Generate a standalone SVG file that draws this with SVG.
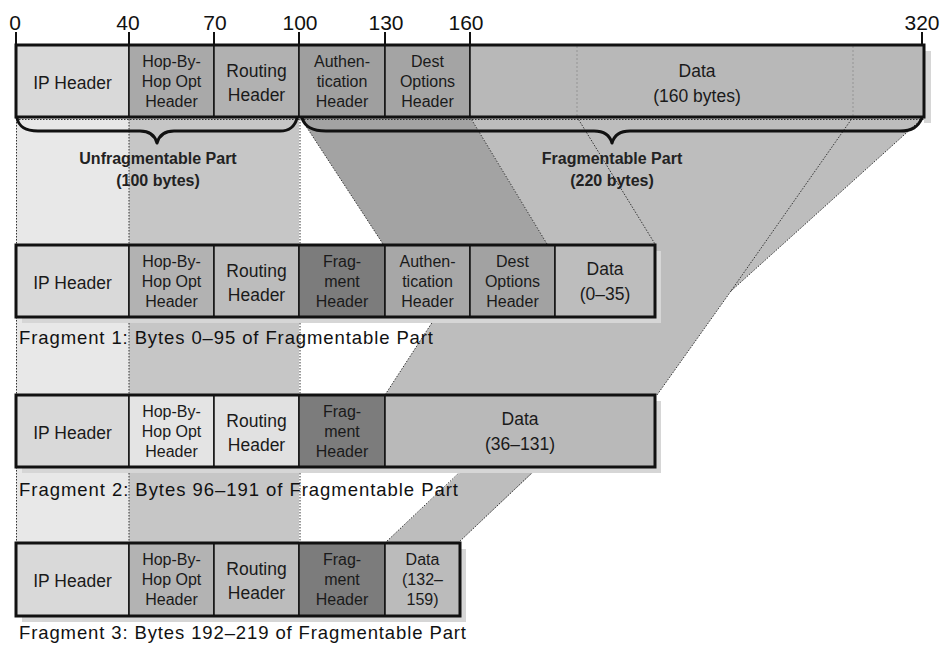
<svg xmlns="http://www.w3.org/2000/svg" width="952" height="648" viewBox="0 0 952 648">
<defs>
<style>
.t{font-family:'Liberation Sans',Arial,sans-serif;fill:#1a1a1a;text-anchor:middle}
.s3{font-size:16px}
.s2{font-size:17.5px}
.num{font-family:'Liberation Sans',Arial,sans-serif;font-size:21px;fill:#111;text-anchor:middle}
.lab{font-family:'Liberation Sans',Arial,sans-serif;font-size:18.5px;fill:#111}
.brl{font-family:'Liberation Sans',Arial,sans-serif;font-size:16px;font-weight:bold;fill:#222;text-anchor:middle}
.cell{stroke:#111;stroke-width:1.5}
.frame{fill:none;stroke:#111;stroke-width:3}
.shadow{fill:#d6d6d6}
.dot{fill:none;stroke:#333;stroke-width:1;stroke-dasharray:1.5 1.5}
.dotl{fill:none;stroke:#9a9a9a;stroke-width:1.2;stroke-dasharray:2 2}
.brace{fill:none;stroke:#111;stroke-width:3;stroke-linecap:round;stroke-linejoin:round}
.tick{stroke:#111;stroke-width:2}
.ip{fill:#d9d9d9}.frag{fill:#7c7c7c}
</style>
</defs>
<rect width="952" height="648" fill="#ffffff"/>

<!-- background bands and mapping areas -->
<g id="mapping">
<rect x="16" y="117" width="113" height="426" fill="#e8e8e8"/>
<rect x="129" y="117" width="170" height="426" fill="#c6c6c6"/>
<polygon points="470,117 924,117 731,291 657,395 385,395 483,244 547,244" fill="#bdbdbd"/>
<polygon points="466,467 539,467 458,543 385,543" fill="#bdbdbd"/>
<polygon points="300,117 470,117 547,244 383,244" fill="#a3a3a3"/>
</g>

<g id="connectors">
<line class="dot" x1="16.5" y1="119" x2="16.5" y2="543"/>
<line class="dot" x1="129" y1="119" x2="129" y2="543"/>
<line class="dot" x1="300" y1="119" x2="300" y2="543"/>
<line class="dot" x1="16" y1="119.5" x2="924" y2="119.5"/>
<line class="dot" x1="300" y1="117" x2="383" y2="244"/>
<line class="dot" x1="470" y1="117" x2="547" y2="244"/>
<line class="dot" x1="577" y1="117" x2="655" y2="244"/>
<line class="dot" x1="853" y1="117" x2="731" y2="291"/>
<line class="dot" x1="924" y1="117" x2="731" y2="291"/>
<line class="dot" x1="731" y1="291" x2="657" y2="395"/>
<line class="dot" x1="435" y1="318" x2="385" y2="395"/>
<line class="dot" x1="462" y1="470" x2="385" y2="543"/>
<line class="dot" x1="535" y1="470" x2="458" y2="543"/>
</g>

<g id="braces">
<path class="brace" d="M17,118 C19,127 25,131 38,131 L140,131 C150,131 155,136 157,143 C159,136 164,131 174,131 L280,131 C290,131 295,126 297,118"/>
<path class="brace" d="M302,118 C305,127 312,131 326,131 L594,131 C604,131 610,136 612,143 C614,136 620,131 630,131 L900,131 C912,131 918,127 922,118"/>
<text class="brl" x="158" y="164">Unfragmentable Part</text>
<text class="brl" x="158" y="186">(100 bytes)</text>
<text class="brl" x="612" y="164">Fragmentable Part</text>
<text class="brl" x="612" y="186">(220 bytes)</text>
</g>

<!-- original packet -->
<g id="original">
<rect class="shadow" x="924" y="51" width="7" height="72"/>
<g id="o-ip"><rect class="cell ip" x="16" y="45" width="113" height="72"/><text class="t s2" x="72.5" y="89">IP Header</text></g>
<g id="o-hop"><rect class="cell" fill="#a9a9a9" x="129" y="45" width="85" height="72"/><text class="t s3" x="171.5" y="67">Hop-By-</text><text class="t s3" x="171.5" y="87">Hop Opt</text><text class="t s3" x="171.5" y="107">Header</text></g>
<g id="o-rt"><rect class="cell" fill="#b1b1b1" x="214" y="45" width="85" height="72"/><text class="t s2" x="256.5" y="77">Routing</text><text class="t s2" x="256.5" y="101">Header</text></g>
<g id="o-auth"><rect class="cell" fill="#9f9f9f" x="299" y="45" width="86" height="72"/><text class="t s3" x="342" y="67">Authen-</text><text class="t s3" x="342" y="87">tication</text><text class="t s3" x="342" y="107">Header</text></g>
<g id="o-dest"><rect class="cell" fill="#a4a4a4" x="385" y="45" width="85" height="72"/><text class="t s3" x="427.5" y="67">Dest</text><text class="t s3" x="427.5" y="87">Options</text><text class="t s3" x="427.5" y="107">Header</text></g>
<g id="o-data"><rect class="cell" fill="#b8b8b8" x="470" y="45" width="454" height="72"/>
<line class="dotl" x1="577" y1="46" x2="577" y2="116"/><line class="dotl" x1="853" y1="46" x2="853" y2="116"/>
<text class="t s2" x="697" y="77">Data</text><text class="t s2" x="697" y="102">(160 bytes)</text></g>
<rect class="frame" x="16" y="45" width="908" height="72"/>
</g>

<g id="scale">
<line class="tick" x1="16" y1="32" x2="16" y2="45"/>
<line class="tick" x1="129" y1="32" x2="129" y2="45"/>
<line class="tick" x1="214" y1="32" x2="214" y2="45"/>
<line class="tick" x1="299" y1="32" x2="299" y2="45"/>
<line class="tick" x1="385" y1="32" x2="385" y2="45"/>
<line class="tick" x1="470" y1="32" x2="470" y2="45"/>
<line class="tick" x1="922" y1="32" x2="922" y2="45"/>
<text class="num" x="15" y="30">0</text>
<text class="num" x="128" y="30">40</text>
<text class="num" x="215" y="30">70</text>
<text class="num" x="300" y="30">100</text>
<text class="num" x="386" y="30">130</text>
<text class="num" x="466" y="30">160</text>
<text class="num" x="922" y="30">320</text>
</g>

<!-- Fragment 1 -->
<g id="fragment1">
<rect class="shadow" x="22" y="251" width="639" height="72"/>
<g id="f1-ip"><rect class="cell ip" x="16" y="245" width="113" height="72"/><text class="t s2" x="72.5" y="289">IP Header</text></g>
<g id="f1-hop"><rect class="cell" fill="#b2b2b2" x="129" y="245" width="85" height="72"/><text class="t s3" x="171.5" y="267">Hop-By-</text><text class="t s3" x="171.5" y="287">Hop Opt</text><text class="t s3" x="171.5" y="307">Header</text></g>
<g id="f1-rt"><rect class="cell" fill="#bcbcbc" x="214" y="245" width="85" height="72"/><text class="t s2" x="256.5" y="277">Routing</text><text class="t s2" x="256.5" y="301">Header</text></g>
<g id="f1-frag"><rect class="cell frag" x="299" y="245" width="86" height="72"/><text class="t s3" x="342" y="267">Frag-</text><text class="t s3" x="342" y="287">ment</text><text class="t s3" x="342" y="307">Header</text></g>
<g id="f1-auth"><rect class="cell" fill="#a7a7a7" x="385" y="245" width="85" height="72"/><text class="t s3" x="427.5" y="267">Authen-</text><text class="t s3" x="427.5" y="287">tication</text><text class="t s3" x="427.5" y="307">Header</text></g>
<g id="f1-dest"><rect class="cell" fill="#a2a2a2" x="470" y="245" width="85" height="72"/><text class="t s3" x="512.5" y="267">Dest</text><text class="t s3" x="512.5" y="287">Options</text><text class="t s3" x="512.5" y="307">Header</text></g>
<g id="f1-data"><rect class="cell" fill="#bdbdbd" x="555" y="245" width="100" height="72"/><text class="t s2" x="605" y="275">Data</text><text class="t s2" x="605" y="300">(0–35)</text></g>
<rect class="frame" x="16" y="245" width="639" height="72"/>
<text class="lab" x="19" y="344" textLength="414">Fragment 1: Bytes 0–95 of Fragmentable Part</text>
</g>

<!-- Fragment 2 -->
<g id="fragment2">
<rect class="shadow" x="22" y="401" width="639" height="72"/>
<g id="f2-ip"><rect class="cell ip" x="16" y="395" width="113" height="72"/><text class="t s2" x="72.5" y="439">IP Header</text></g>
<g id="f2-hop"><rect class="cell" fill="#e4e4e4" x="129" y="395" width="85" height="72"/><text class="t s3" x="171.5" y="417">Hop-By-</text><text class="t s3" x="171.5" y="437">Hop Opt</text><text class="t s3" x="171.5" y="457">Header</text></g>
<g id="f2-rt"><rect class="cell" fill="#e1e1e1" x="214" y="395" width="85" height="72"/><text class="t s2" x="256.5" y="427">Routing</text><text class="t s2" x="256.5" y="451">Header</text></g>
<g id="f2-frag"><rect class="cell frag" x="299" y="395" width="86" height="72"/><text class="t s3" x="342" y="417">Frag-</text><text class="t s3" x="342" y="437">ment</text><text class="t s3" x="342" y="457">Header</text></g>
<g id="f2-data"><rect class="cell" fill="#b9b9b9" x="385" y="395" width="270" height="72"/><text class="t s2" x="520" y="425">Data</text><text class="t s2" x="520" y="450">(36–131)</text></g>
<rect class="frame" x="16" y="395" width="639" height="72"/>
<text class="lab" x="19" y="496" textLength="439">Fragment 2: Bytes 96–191 of Fragmentable Part</text>
</g>

<!-- Fragment 3 -->
<g id="fragment3">
<rect class="shadow" x="22" y="549" width="444" height="73"/>
<g id="f3-ip"><rect class="cell ip" x="16" y="543" width="113" height="73"/><text class="t s2" x="72.5" y="587">IP Header</text></g>
<g id="f3-hop"><rect class="cell" fill="#b3b3b3" x="129" y="543" width="85" height="73"/><text class="t s3" x="171.5" y="565">Hop-By-</text><text class="t s3" x="171.5" y="585">Hop Opt</text><text class="t s3" x="171.5" y="605">Header</text></g>
<g id="f3-rt"><rect class="cell" fill="#bcbcbc" x="214" y="543" width="85" height="73"/><text class="t s2" x="256.5" y="575">Routing</text><text class="t s2" x="256.5" y="599">Header</text></g>
<g id="f3-frag"><rect class="cell frag" x="299" y="543" width="86" height="73"/><text class="t s3" x="342" y="565">Frag-</text><text class="t s3" x="342" y="585">ment</text><text class="t s3" x="342" y="605">Header</text></g>
<g id="f3-data"><rect class="cell" fill="#bbbbbb" x="385" y="543" width="75" height="73"/><text class="t s3" x="422.5" y="565">Data</text><text class="t s3" x="422.5" y="585">(132–</text><text class="t s3" x="422.5" y="605">159)</text></g>
<rect class="frame" x="16" y="543" width="444" height="73"/>
<text class="lab" x="19" y="639" textLength="447">Fragment 3: Bytes 192–219 of Fragmentable Part</text>
</g>
</svg>
